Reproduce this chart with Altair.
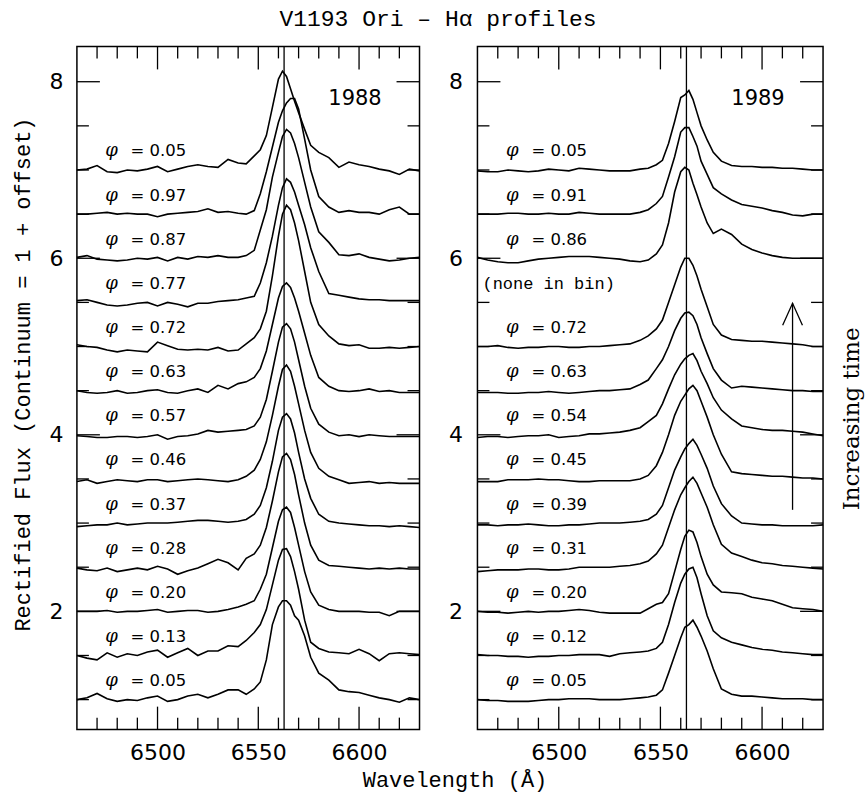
import altair as alt
import pandas as pd

# ---------------- data ----------------
WL = [6460, 6465, 6470, 6475, 6480, 6485, 6490, 6495, 6500, 6505, 6510, 6515, 6520,
      6525, 6530, 6535, 6540, 6544, 6548, 6551, 6554, 6557, 6560, 6562, 6564, 6566,
      6568, 6570, 6573, 6576, 6580, 6585, 6590, 6595, 6600, 6605, 6610, 6615, 6620,
      6625, 6630]

HALPHA = [6562.8]
OFFSETS = [6.0, 5.5, 5.0, 4.5, 4.0, 3.5, 3.0, 2.5, 2.0, 1.5, 1.0, 0.5, 0.0]

# 1988 profiles (rectified flux - 1), top to bottom
P88_005b = [0.00, 0.01, 0.05, -0.02, -0.03, 0.00, -0.01, 0.01, 0.04, -0.02, 0.01, 0.04, 0.06, 0.04, 0.03, 0.12, 0.08,
            0.07, 0.16, 0.23, 0.39, 0.71, 1.03, 1.12, 1.06, 0.92, 0.78, 0.65, 0.46, 0.28, 0.20, 0.14, 0.03, 0.09, 0.06, 0.04, 0.01, -0.01, -0.05, 0.01, -0.01]
P88_097 = [0.00, 0.00, 0.01, 0.02, 0.00, 0.01, 0.00, 0.00, -0.03, 0.00, 0.01, 0.02, 0.03, 0.06, 0.02, 0.03, 0.01,
           0.00, 0.04, 0.23, 0.48, 0.76, 1.04, 1.17, 1.26, 1.31, 1.31, 1.19, 0.85, 0.50, 0.20, 0.08, 0.02, 0.04, 0.02, 0.02, 0.00, 0.05, 0.08, 0.00, 0.00]
P88_087 = [0.01, 0.03, -0.01, -0.02, -0.03, -0.02, 0.00, -0.01, 0.01, -0.03, 0.01, -0.01, 0.02, 0.01, 0.03, 0.01, 0.01,
           0.03, 0.09, 0.32, 0.55, 0.92, 1.20, 1.38, 1.46, 1.42, 1.30, 1.14, 0.86, 0.58, 0.30, 0.18, 0.04, 0.03, 0.05, 0.01, -0.01, -0.03, -0.02, 0.00, 0.01]
P88_077 = [0.02, 0.03, 0.00, -0.03, -0.04, -0.03, -0.01, 0.00, -0.04, 0.00, -0.02, -0.05, -0.01, -0.01, 0.01, 0.02, 0.03,
           0.05, 0.07, 0.22, 0.45, 0.75, 1.10, 1.30, 1.40, 1.36, 1.25, 1.10, 0.88, 0.62, 0.35, 0.10, 0.08, 0.06, 0.04, 0.03, 0.03, 0.02, 0.02, 0.02, 0.02]
P88_072 = [0.02, 0.00, -0.01, -0.04, -0.06, -0.04, -0.05, -0.06, 0.05, 0.01, -0.03, -0.04, -0.03, -0.04, -0.01, -0.05, -0.04,
           0.03, 0.10, 0.20, 0.40, 0.80, 1.25, 1.50, 1.60, 1.55, 1.40, 1.20, 0.85, 0.50, 0.25, 0.12, 0.03, 0.01, 0.02, -0.02, -0.02, -0.01, -0.02, -0.01, 0.00]
P88_063 = [0.00, -0.02, -0.03, -0.02, 0.00, -0.03, -0.02, 0.00, 0.01, -0.02, -0.03, 0.00, 0.02, -0.02, 0.06, 0.02, 0.08,
           0.10, 0.15, 0.25, 0.45, 0.75, 1.05, 1.18, 1.22, 1.17, 1.05, 0.90, 0.65, 0.40, 0.15, 0.05, 0.00, -0.01, 0.00, 0.02, -0.01, 0.00, -0.02, -0.02, -0.02]
P88_057 = [-0.01, -0.02, -0.03, -0.03, -0.02, -0.02, -0.03, -0.02, 0.00, -0.05, -0.02, -0.01, 0.01, 0.05, 0.03, 0.04, 0.05,
           0.06, 0.10, 0.20, 0.40, 0.72, 1.05, 1.22, 1.26, 1.20, 1.05, 0.85, 0.55, 0.30, 0.12, 0.03, -0.01, 0.00, -0.02, 0.00, -0.01, -0.02, -0.02, -0.02, -0.02]
P88_046 = [-0.03, -0.01, -0.05, -0.03, -0.01, -0.02, -0.03, -0.01, -0.01, -0.03, -0.02, -0.01, 0.00, -0.01, -0.02, -0.03, -0.01,
           0.03, 0.10, 0.22, 0.42, 0.72, 1.05, 1.24, 1.29, 1.22, 1.05, 0.85, 0.55, 0.30, 0.12, 0.03, -0.01, -0.05, -0.04, -0.03, -0.05, -0.04, -0.05, -0.05, -0.05]
P88_037 = [-0.04, -0.03, -0.02, -0.02, 0.00, -0.02, -0.01, 0.00, 0.00, 0.00, 0.01, 0.02, 0.03, 0.03, 0.02, 0.01, 0.02,
           0.04, 0.10, 0.20, 0.40, 0.70, 1.05, 1.20, 1.24, 1.18, 1.02, 0.80, 0.50, 0.28, 0.10, 0.02, 0.00, -0.01, -0.02, -0.03, -0.03, -0.04, -0.03, -0.04, -0.05]
P88_028 = [-0.01, -0.03, -0.04, -0.01, -0.05, -0.03, -0.01, -0.03, 0.01, -0.02, -0.08, -0.04, -0.01, 0.04, 0.09, 0.05, -0.03,
           0.10, 0.15, 0.25, 0.45, 0.75, 1.08, 1.25, 1.29, 1.22, 1.05, 0.82, 0.50, 0.25, 0.08, 0.02, 0.01, 0.00, -0.01, -0.02, -0.01, -0.02, -0.01, -0.02, -0.02]
P88_020 = [0.00, 0.00, 0.00, 0.01, -0.01, 0.00, 0.00, 0.01, 0.02, -0.01, 0.00, 0.01, 0.01, -0.01, 0.00, 0.02, 0.05,
           0.08, 0.12, 0.25, 0.42, 0.72, 1.02, 1.15, 1.18, 1.12, 0.95, 0.75, 0.45, 0.22, 0.07, 0.02, 0.00, 0.00, 0.00, -0.01, -0.01, -0.05, 0.00, 0.00, 0.00]
P88_013 = [0.00, -0.03, -0.05, 0.03, -0.02, 0.02, 0.00, 0.04, 0.06, -0.02, 0.03, 0.08, 0.00, 0.05, 0.05, 0.11, 0.10,
           0.17, 0.26, 0.35, 0.52, 0.80, 1.08, 1.20, 1.21, 1.12, 0.95, 0.75, 0.40, 0.15, 0.08, 0.04, 0.03, 0.02, 0.07, 0.02, -0.06, 0.02, 0.03, 0.02, 0.01]
P88_005a = [0.00, 0.02, 0.07, 0.01, -0.02, 0.00, -0.01, 0.02, 0.04, -0.02, 0.00, 0.04, 0.06, 0.02, 0.06, 0.11, 0.11,
            0.06, 0.12, 0.20, 0.45, 0.85, 1.05, 1.12, 1.12, 1.07, 0.95, 0.90, 0.72, 0.48, 0.30, 0.22, 0.11, 0.09, 0.08, 0.05, 0.02, 0.00, -0.03, 0.02, 0.00]

# 1989 profiles (rectified flux - 1), top to bottom (one bin empty)
P89_005b = [-0.01, -0.02, -0.02, 0.00, -0.01, -0.02, -0.01, 0.01, 0.00, -0.01, 0.02, 0.01, 0.00, -0.01, -0.01, -0.01, 0.01,
            0.02, 0.06, 0.11, 0.30, 0.55, 0.82, 0.85, 0.90, 0.80, 0.65, 0.50, 0.34, 0.20, 0.10, 0.05, 0.04, 0.04, 0.03, 0.03, 0.02, 0.02, 0.01, 0.00, 0.00]
P89_091 = [0.00, 0.00, 0.00, 0.01, 0.01, 0.00, 0.00, 0.01, 0.00, 0.00, 0.02, 0.01, 0.00, 0.00, 0.00, 0.00, 0.02,
           0.05, 0.12, 0.20, 0.42, 0.65, 0.93, 0.98, 0.98, 0.88, 0.77, 0.60, 0.45, 0.30, 0.23, 0.16, 0.11, 0.09, 0.07, 0.04, 0.02, -0.01, -0.02, 0.00, 0.00]
P89_086 = [0.01, -0.02, -0.04, -0.05, -0.05, -0.03, -0.01, 0.00, 0.01, 0.02, 0.02, 0.02, 0.01, 0.00, -0.01, -0.03, -0.04,
           -0.02, 0.05, 0.15, 0.40, 0.75, 0.98, 1.03, 1.00, 0.85, 0.72, 0.58, 0.40, 0.28, 0.33, 0.27, 0.16, 0.10, 0.06, 0.03, 0.01, 0.00, 0.00, 0.00, 0.00]
P89_072 = [0.00, 0.00, 0.01, -0.01, -0.02, -0.01, -0.01, 0.00, 0.00, -0.01, -0.01, 0.00, 0.00, 0.01, 0.02, 0.03, 0.07,
           0.12, 0.20, 0.30, 0.50, 0.70, 0.90, 1.00, 1.00, 0.92, 0.80, 0.65, 0.45, 0.25, 0.13, 0.08, 0.07, 0.06, 0.06, 0.05, 0.04, 0.03, 0.02, 0.00, 0.00]
P89_063 = [-0.02, -0.02, -0.02, -0.03, -0.03, -0.02, -0.02, -0.01, -0.02, -0.03, -0.02, -0.01, 0.00, 0.00, 0.01, 0.02, 0.07,
           0.12, 0.25, 0.35, 0.50, 0.68, 0.82, 0.88, 0.89, 0.85, 0.75, 0.60, 0.42, 0.25, 0.12, 0.03, 0.05, 0.04, 0.03, 0.02, 0.01, 0.00, 0.00, -0.01, -0.01]
P89_054 = [-0.03, -0.02, -0.02, -0.03, -0.02, -0.01, -0.01, 0.00, -0.03, -0.02, -0.01, 0.01, 0.01, 0.02, 0.03, 0.05, 0.08,
           0.15, 0.22, 0.35, 0.52, 0.68, 0.80, 0.86, 0.90, 0.92, 0.84, 0.72, 0.58, 0.42, 0.28, 0.18, 0.10, 0.08, 0.06, 0.05, 0.05, 0.04, 0.03, 0.01, -0.01]
P89_045 = [-0.03, -0.03, -0.03, -0.01, -0.01, -0.01, 0.00, -0.01, -0.01, -0.02, -0.03, -0.03, -0.02, -0.02, -0.02, -0.02, 0.00,
           0.04, 0.15, 0.30, 0.50, 0.72, 0.88, 0.95, 1.02, 1.06, 1.00, 0.88, 0.70, 0.50, 0.28, 0.08, 0.06, 0.05, 0.04, 0.03, 0.03, 0.02, 0.01, 0.01, 0.00]
P89_039 = [-0.02, -0.02, -0.03, -0.02, -0.02, -0.01, -0.02, -0.03, -0.03, -0.02, -0.02, -0.01, 0.00, 0.00, 0.00, 0.01, 0.02,
           0.04, 0.10, 0.20, 0.40, 0.60, 0.75, 0.84, 0.90, 0.95, 0.88, 0.78, 0.62, 0.42, 0.22, 0.08, 0.00, -0.01, -0.02, -0.02, -0.03, -0.03, -0.03, -0.03, -0.02]
P89_031 = [-0.05, -0.04, -0.03, -0.03, -0.03, -0.02, -0.02, -0.03, -0.03, -0.02, 0.00, 0.00, 0.00, 0.00, 0.01, 0.02, 0.04,
           0.07, 0.15, 0.25, 0.45, 0.65, 0.82, 0.90, 0.97, 1.02, 0.95, 0.84, 0.68, 0.48, 0.26, 0.16, 0.12, 0.08, 0.05, 0.04, 0.02, 0.01, 0.00, -0.01, -0.02]
P89_020 = [0.00, -0.01, -0.01, -0.02, -0.01, 0.00, -0.01, 0.00, 0.00, 0.01, 0.02, 0.01, -0.01, -0.02, -0.02, -0.02, -0.02,
           0.03, 0.08, 0.10, 0.20, 0.45, 0.70, 0.85, 0.92, 0.90, 0.78, 0.62, 0.42, 0.30, 0.22, 0.21, 0.20, 0.16, 0.14, 0.12, 0.08, 0.04, 0.03, 0.02, 0.00]
P89_012 = [0.01, 0.00, 0.00, -0.01, -0.01, -0.02, -0.01, -0.01, 0.00, 0.00, 0.01, 0.01, 0.01, -0.01, 0.02, 0.03, 0.04,
           0.05, 0.08, 0.15, 0.35, 0.60, 0.82, 0.92, 0.98, 1.00, 0.88, 0.70, 0.45, 0.28, 0.20, 0.15, 0.12, 0.09, 0.07, 0.06, 0.04, 0.03, 0.02, 0.01, 0.01]
P89_005a = [0.00, -0.01, -0.01, -0.02, -0.02, -0.02, -0.01, 0.00, 0.00, 0.01, 0.01, 0.01, 0.00, 0.00, 0.00, 0.01, 0.02,
            0.03, 0.05, 0.11, 0.30, 0.50, 0.70, 0.82, 0.85, 0.90, 0.82, 0.72, 0.55, 0.35, 0.12, 0.06, 0.04, 0.04, 0.03, 0.02, 0.01, 0.01, 0.01, 0.00, 0.00]

PROFILES_88 = [P88_005b, P88_097, P88_087, P88_077, P88_072, P88_063, P88_057, P88_046,
               P88_037, P88_028, P88_020, P88_013, P88_005a]
PHASES_88 = ["0.05", "0.97", "0.87", "0.77", "0.72", "0.63", "0.57", "0.46",
             "0.37", "0.28", "0.20", "0.13", "0.05"]
PROFILES_89 = [P89_005b, P89_091, P89_086, None, P89_072, P89_063, P89_054, P89_045,
               P89_039, P89_031, P89_020, P89_012, P89_005a]
PHASES_89 = ["0.05", "0.91", "0.86", None, "0.72", "0.63", "0.54", "0.45",
             "0.39", "0.31", "0.20", "0.12", "0.05"]

X_MAJOR = [6500, 6550, 6600]
X_MINOR = [6470, 6480, 6490, 6510, 6520, 6530, 6540, 6560, 6570, 6580, 6590, 6610, 6620]
Y_MAJOR = [2, 4, 6, 8]
Y_MINOR = [1.0, 1.5, 2.5, 3.0, 3.5, 4.5, 5.0, 5.5, 6.5, 7.0, 7.5]

ARROW_WL = [6615]
ARROW_FROM = [3.15]
ARROW_TO = [5.49]

# ---------------- layout constants ----------------
H = 684
W_LEFT = 343
W_RIGHT = 346
XDOM = [6460, 6630]
YDOM = [0.66, 8.40]
LABEL_WL = 6477.2
LABEL_LIFT = 0.21
MAJ = 23
MIN = 12

MONO = "Liberation Mono"
SANS = "DejaVu Sans"


def spectra_df(profiles):
    rows = []
    for k, (prof, off) in enumerate(zip(profiles, OFFSETS)):
        if prof is None:
            continue
        for w, d in zip(WL, prof):
            rows.append({"wl": w, "v": 1 + off + d, "spec": k})
    return pd.DataFrame(rows)


def labels_df(phases):
    rows = []
    for ph, off in zip(phases, OFFSETS):
        rows.append({"wl": LABEL_WL, "v": 1 + off + LABEL_LIFT,
                     "phi": "φ" if ph else "", "val": ("=  " + ph) if ph else "",
                     "none": "" if ph else "(none in bin)"})
    return pd.DataFrame(rows)


def panel(profiles, phases, year, width, left):
    xs = alt.Scale(domain=XDOM, nice=False, zero=False)
    ys = alt.Scale(domain=YDOM, nice=False, zero=False)

    if left:
        xaxis = alt.Axis(values=X_MAJOR, format="d", ticks=False, tickSize=0, domain=False, grid=False,
                         labelPadding=13, title="Wavelength (Å)", titleX=378, titlePadding=6)
        yaxis = alt.Axis(values=Y_MAJOR, format="d", ticks=False, tickSize=0, domain=False, grid=False,
                         labelPadding=14, title="Rectified Flux (Continuum = 1 + offset)",
                         titlePadding=14, titleY=328)
    else:
        xaxis = alt.Axis(values=X_MAJOR, format="d", ticks=False, tickSize=0, domain=False, grid=False,
                         labelPadding=13, title=None)
        yaxis = alt.Axis(values=Y_MAJOR, format="d", ticks=False, tickSize=0, domain=False, grid=False,
                         labelPadding=15, title=None)

    X = alt.X("wl:Q", scale=xs, axis=xaxis)
    Y = alt.Y("v:Q", scale=ys, axis=yaxis)

    lines = alt.Chart(spectra_df(profiles)).mark_line(color="black", strokeWidth=1.6).encode(
        x=X, y=Y, detail="spec:N", order="wl:Q")

    ha = alt.Chart(pd.DataFrame({"wl": HALPHA})).mark_rule(color="black", strokeWidth=1.3).encode(x=X)

    xmaj = pd.DataFrame({"wl": X_MAJOR})
    xmin = pd.DataFrame({"wl": X_MINOR})
    ymaj = pd.DataFrame({"v": Y_MAJOR})
    ymin = pd.DataFrame({"v": Y_MINOR})

    def xt(df, ln):
        b = alt.Chart(df).mark_rule(color="black", strokeWidth=1.3).encode(
            x=X, y=alt.value(H), y2=alt.value(H - ln))
        t = alt.Chart(df).mark_rule(color="black", strokeWidth=1.3).encode(
            x=X, y=alt.value(0), y2=alt.value(ln))
        return [b, t]

    def yt(df, ln):
        l = alt.Chart(df).mark_rule(color="black", strokeWidth=1.3).encode(
            y=Y, x=alt.value(0), x2=alt.value(ln))
        r = alt.Chart(df).mark_rule(color="black", strokeWidth=1.3).encode(
            y=Y, x=alt.value(width), x2=alt.value(width - ln))
        return [l, r]

    ticks = xt(xmaj, MAJ) + xt(xmin, MIN) + yt(ymaj, MAJ) + yt(ymin, MIN)

    ldf = labels_df(phases)
    phi = alt.Chart(ldf).mark_text(font="DejaVu Serif", fontStyle="italic", fontSize=18,
                                   align="center", baseline="middle", color="black").encode(
        x=X, y=Y, text="phi:N")
    val = alt.Chart(ldf).mark_text(font=SANS, fontSize=16.5, align="left", baseline="middle",
                                   dx=19, color="black").encode(x=X, y=Y, text="val:N")
    none = alt.Chart(ldf).mark_text(font=MONO, fontSize=17, align="left", baseline="middle",
                                    dx=-30, color="black").encode(x=X, y=Y, text="none:N")

    yr = alt.Chart(pd.DataFrame({"wl": [6598], "v": [7.80], "t": [year]})).mark_text(
        font=SANS, fontSize=21, align="center", baseline="middle", color="black").encode(
        x=X, y=Y, text="t:N")

    layers = [lines, ha] + ticks + [phi, val, none, yr]

    if not left:
        adf = pd.DataFrame({"wl": ARROW_WL, "v": ARROW_FROM, "v2": ARROW_TO})
        shaft = alt.Chart(adf).mark_rule(color="black", strokeWidth=1.3).encode(x=X, y=Y, y2="v2:Q")
        hdf = pd.DataFrame({"wl": ARROW_WL, "v": ARROW_TO})
        head = alt.Chart(hdf).mark_point(shape="M-0.45,1L0,0L0.45,1", size=1936, filled=False,
                                         color="black", strokeWidth=1.3, opacity=1).encode(x=X, y=Y)
        side = alt.Chart(pd.DataFrame({"v": [4.18], "t": ["Increasing time"]})).mark_text(
            font="DejaVu Serif", fontSize=23, angle=270, align="center", baseline="middle",
            color="black").encode(x=alt.value(width + 29), y=Y, text="t:N")
        layers += [shaft, head, side]

    return alt.layer(*layers).properties(width=width, height=H)


left = panel(PROFILES_88, PHASES_88, "1988", W_LEFT, True)
right = panel(PROFILES_89, PHASES_89, "1989", W_RIGHT, False)

chart = alt.hconcat(left, right, spacing=58, bounds="flush").properties(
    title=alt.TitleParams("V1193 Ori – Hα profiles", font=MONO, fontSize=23, fontWeight="normal",
                          anchor="middle", offset=14, color="black"),
    padding={"left": 11, "top": 7, "right": 0, "bottom": 14},
    background="white",
).configure_view(stroke="black", strokeWidth=1.5).configure_axis(
    labelFont=SANS, labelFontSize=22, labelColor="black",
    titleFont=MONO, titleFontSize=22, titleFontWeight="normal", titleColor="black",
)

chart.save("out.html", embed_options={"renderer": "svg", "actions": False})
